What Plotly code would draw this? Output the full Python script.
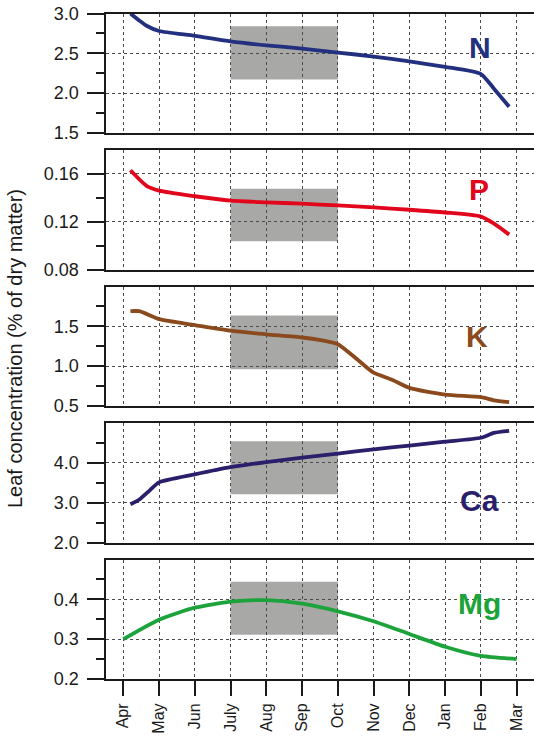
import plotly.graph_objects as go

# ---------------- data ----------------
month_labels = ["Apr", "May", "Jun", "July", "Aug", "Sep", "Oct", "Nov", "Dec", "Jan", "Feb", "Mar"]
month_pos = list(range(12))

n_x = [0.2, 0.45, 0.65, 1, 2, 3, 4, 5, 6, 7, 8, 9, 10, 10.36, 10.79]
n_y = [3.0, 2.91, 2.846, 2.78, 2.72, 2.65, 2.60, 2.56, 2.51, 2.46, 2.40, 2.33, 2.24, 2.06, 1.83]

p_x = [0.2, 0.65, 1, 2, 3, 4, 5, 6, 7, 8, 9, 10, 10.36, 10.79]
p_y = [0.163, 0.150, 0.146, 0.1413, 0.1376, 0.1362, 0.1351, 0.1336, 0.132, 0.130, 0.1277, 0.1243, 0.1186, 0.1092]

k_x = [0.2, 0.45, 1, 2, 3, 4, 5, 5.6, 6, 6.54, 7, 7.5, 8, 9, 10, 10.36, 10.79]
k_y = [1.69, 1.69, 1.59, 1.516, 1.445, 1.40, 1.36, 1.32, 1.276, 1.086, 0.918, 0.833, 0.728, 0.643, 0.61, 0.572, 0.55]

ca_x = [0.2, 0.45, 0.74, 1, 2, 3, 4, 5, 6, 7, 8, 9, 10, 10.36, 10.79]
ca_y = [2.96, 3.08, 3.31, 3.51, 3.71, 3.89, 4.02, 4.13, 4.23, 4.34, 4.43, 4.53, 4.63, 4.75, 4.80]

mg_x = [0, 1, 2, 3, 4, 5, 6, 7, 8, 9, 10, 11]
mg_y = [0.300, 0.349, 0.379, 0.394, 0.398, 0.389, 0.370, 0.345, 0.313, 0.281, 0.258, 0.250]

elements = ["N", "P", "K", "Ca", "Mg"]
shade_start, shade_end = 3, 6          # July .. Oct
shade_lo = [2.17, 0.1036, 0.96, 3.21, 0.311]
shade_hi = [2.84, 0.1475, 1.635, 4.54, 0.444]

y_ranges = [[1.5, 3.0], [0.08, 0.18], [0.5, 2.0], [2.0, 5.0], [0.2, 0.5]]
y_major = [[1.5, 2.0, 2.5, 3.0], [0.08, 0.12, 0.16], [0.5, 1.0, 1.5], [2.0, 3.0, 4.0], [0.2, 0.3, 0.4]]
y_minor = [[1.75, 2.25, 2.75], [0.10, 0.14], [0.75, 1.25, 1.75], [2.5, 3.5, 4.5], [0.25, 0.35, 0.45]]
y_fmt = [".1f", ".2f", ".1f", ".1f", ".1f"]

# ---------------- styling ----------------
W, H = 534, 736
colors = ["#22307F", "#E2061C", "#8A4A1D", "#2A1F6B", "#1DA33B"]
panel_px = [(13.5, 133), (150, 269.5), (286.5, 406), (423, 542.5), (559.5, 679)]
label_px = [(480, 47), (479, 189), (477, 336), (479, 500), (479, 603)]
x_left_px = 106.3
x_range = [-0.475, 11.485]
grid_col = "#4a4a4a"
axis_col = "#1a1a1a"
font_fam = "Liberation Sans, Arial, sans-serif"

series = [(n_x, n_y), (p_x, p_y), (k_x, k_y), (ca_x, ca_y), (mg_x, mg_y)]

fig = go.Figure()
layout = {}
shapes = []
annotations = []

for i, (xs, ys) in enumerate(series):
    k = i + 1
    xa = "x" if k == 1 else f"x{k}"
    ya = "y" if k == 1 else f"y{k}"
    fig.add_trace(go.Scatter(
        x=xs, y=ys, xaxis=xa, yaxis=ya, mode="lines",
        line=dict(color=colors[i], width=3.8, shape="spline", smoothing=0.6),
        showlegend=False, hoverinfo="skip"))

    top, bot = panel_px[i]
    ydom = [1 - bot / H, 1 - top / H]
    last = (k == 5)
    layout["xaxis" if k == 1 else f"xaxis{k}"] = dict(
        domain=[x_left_px / W, 1.0], anchor=ya, range=x_range,
        tickmode="array", tickvals=month_pos, ticktext=month_labels,
        showticklabels=last, ticks="outside" if last else "",
        ticklen=15, tickwidth=2, tickcolor=axis_col, tickangle=-90,
        ticklabelstandoff=1,
        tickfont=dict(size=16, color="#1a1a1a", family=font_fam),
        showgrid=True, gridcolor=grid_col, gridwidth=1, griddash="3px,3px",
        showline=True, linecolor=axis_col, linewidth=2, mirror=True,
        zeroline=False, fixedrange=True, automargin=False,
    )
    layout["yaxis" if k == 1 else f"yaxis{k}"] = dict(
        domain=ydom, anchor=xa, range=y_ranges[i],
        tickmode="array", tickvals=y_major[i], tickformat=y_fmt[i],
        ticks="outside", ticklen=17, tickwidth=1.6, tickcolor=axis_col,
        ticklabelstandoff=5,
        tickfont=dict(size=18, color="#1a1a1a", family=font_fam),
        minor=dict(tickmode="array", tickvals=y_minor[i], ticks="outside",
                   ticklen=8.5, tickwidth=1.6, tickcolor=axis_col, showgrid=False),
        showgrid=True, gridcolor=grid_col, gridwidth=1, griddash="3px,3px",
        showline=True, linecolor=axis_col, linewidth=2, mirror=False,
        zeroline=False, fixedrange=True, automargin=False,
    )
    shapes.append(dict(type="rect", xref=xa, yref=ya,
                       x0=shade_start, x1=shade_end, y0=shade_lo[i], y1=shade_hi[i],
                       fillcolor="#A8A9A7", line=dict(width=0), layer="below"))
    lx, ly = label_px[i]
    annotations.append(dict(text=f"<b>{elements[i]}</b>", xref="paper", yref="paper",
                            x=lx / W, y=1 - ly / H, xanchor="center", yanchor="middle",
                            showarrow=False,
                            font=dict(size=30, color=colors[i], family=font_fam)))

annotations.append(dict(text="Leaf concentration (% of dry matter)", xref="paper", yref="paper",
                        x=15 / W, y=1 - 349 / H, xanchor="center", yanchor="middle",
                        textangle=-90, showarrow=False,
                        font=dict(size=20, color="#1a1a1a", family=font_fam)))

fig.update_layout(
    width=W, height=H,
    margin=dict(l=0, r=0, t=0, b=0),
    paper_bgcolor="white", plot_bgcolor="white",
    shapes=shapes, annotations=annotations,
    **layout,
)

fig.write_html("out.html",
               config={"displayModeBar": False},
               post_script="document.body.style.margin='0px';document.body.style.overflow='hidden';")
